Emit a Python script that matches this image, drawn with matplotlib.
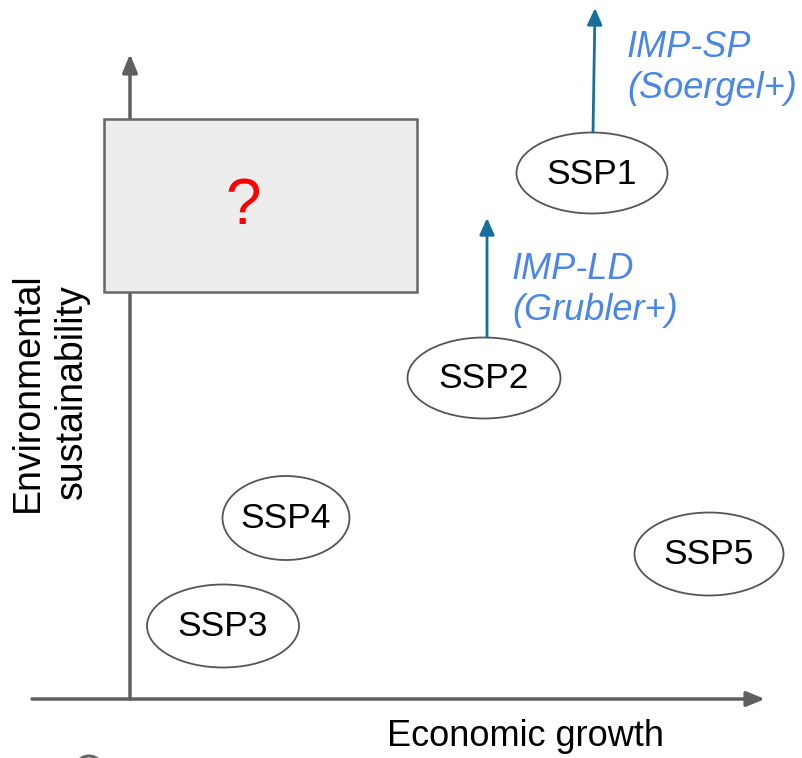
import matplotlib
matplotlib.use('Agg')
import matplotlib.pyplot as plt
from matplotlib.patches import Ellipse, Rectangle, Circle

plt.rcParams['font.family'] = ['Liberation Sans', 'DejaVu Sans']

# scenario bubbles (diagram pixel space: x = growth, y = sustainability, y grows downward)
scenarios = ['SSP1', 'SSP2', 'SSP3', 'SSP4', 'SSP5']
growth = [592, 484, 223, 286, 709]
sustain = [173, 378, 626, 518, 554]
bubble_w = [151, 153, 152, 127, 149]
bubble_h = [81, 81, 83, 84, 83]

# illustrative pathways drawn as arrows out of SSP1 / SSP2
imp_labels = ['IMP-SP\n(Soergel+)', 'IMP-LD\n(Grubler+)']
imp_start_x = [593, 487]
imp_start_y = [132, 337]
imp_end_x = [595, 487]
imp_end_y = [8, 218]
imp_text_x = [627, 512]
imp_text_y = [68, 290]

W, H = 803, 758
fig = plt.figure(figsize=(W / 100, H / 100), dpi=100)
ax = fig.add_axes([0, 0, 1, 1])
ax.set_xlim(0, W)
ax.set_ylim(H, 0)
ax.axis('off')

grey = '#5f5f5f'

# axes arrows
ax.annotate('', xy=(765, 699), xytext=(32, 699),
            arrowprops=dict(arrowstyle='-|>,head_length=1.1,head_width=0.45',
                            color=grey, lw=2.5, shrinkA=0, shrinkB=0))
ax.annotate('', xy=(130, 54), xytext=(130, 699),
            arrowprops=dict(arrowstyle='-|>,head_length=1.1,head_width=0.45',
                            color=grey, lw=2.5, shrinkA=0, shrinkB=0))

# unknown quadrant box
ax.add_patch(Rectangle((104, 119), 313, 173, facecolor='#ededed',
                       edgecolor='#666666', lw=1.8, zorder=3))
ax.text(243, 207, '?', color='#ff0000', fontsize=46, ha='center', va='center', zorder=4)

for name, x, y, w, h in zip(scenarios, growth, sustain, bubble_w, bubble_h):
    ax.add_patch(Ellipse((x, y), w, h, facecolor='white', edgecolor='#555555', lw=1.3, zorder=3))
    ax.text(x, y + 1, name, fontsize=25.5, ha='center', va='center', color='black', zorder=4)

for lab, x0, y0, x1, y1, tx, ty in zip(imp_labels, imp_start_x, imp_start_y,
                                        imp_end_x, imp_end_y, imp_text_x, imp_text_y):
    ax.annotate('', xy=(x1, y1), xytext=(x0, y0),
                arrowprops=dict(arrowstyle='-|>,head_length=1.0,head_width=0.45',
                                color='#17709c', lw=2.0, shrinkA=0, shrinkB=0))
    ax.text(tx, ty, lab, fontsize=26, style='italic', color='#4a86e8',
            ha='left', va='center', linespacing=1.25)

ax.text(50, 392, 'Environmental\nsustainability', fontsize=27, rotation=90,
        ha='center', va='center', multialignment='center', linespacing=1.3)
ax.text(526, 737, 'Economic growth', fontsize=26, ha='center', va='center')

# partly visible marker at the bottom edge
ax.add_patch(Circle((89, 770), 14, facecolor='none', edgecolor='#666666', lw=2.2))

fig.savefig('out.png', dpi=100)
plt.close(fig)
